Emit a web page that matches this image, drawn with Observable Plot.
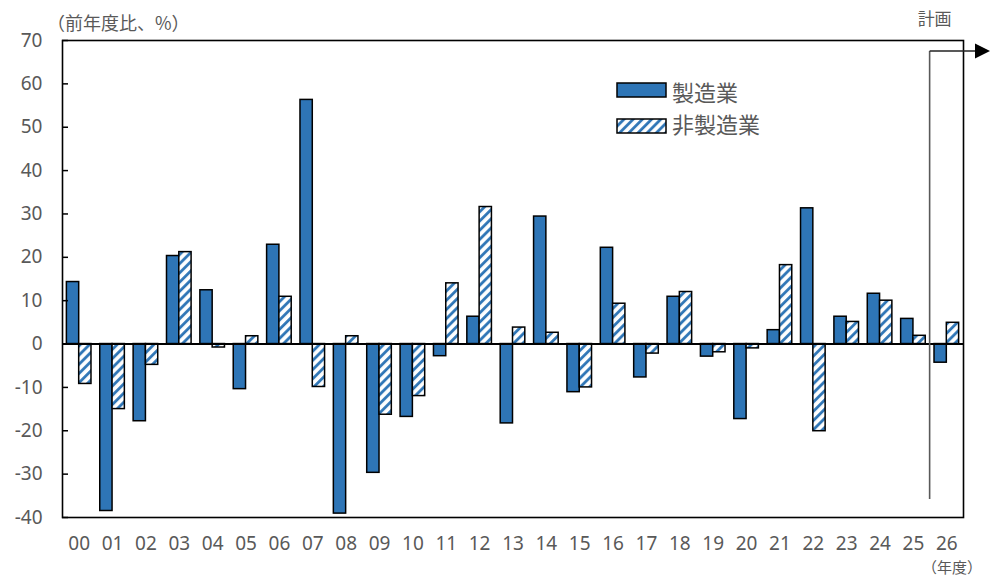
<!DOCTYPE html>
<html><head><meta charset="utf-8">
<script src="https://cdn.jsdelivr.net/npm/d3@7"></script>
<script src="https://cdn.jsdelivr.net/npm/@observablehq/plot@0.6"></script>
<style>
body{margin:0;background:#fff;}
#chart{position:relative;width:995px;height:579px;font-family:"Noto Sans CJK JP","Noto Sans",sans-serif;color:#595959;}
.lbl{position:absolute;white-space:nowrap;line-height:1;}
</style></head><body><div id="chart"></div>
<script>
const years = ["00","01","02","03","04","05","06","07","08","09","10","11","12","13","14","15","16","17","18","19","20","21","22","23","24","25","26"];
const manufacturing = [14.3,-38.5,-17.8,20.3,12.4,-10.4,22.9,56.3,-39.1,-29.7,-16.8,-2.8,6.3,-18.3,29.4,-11.1,22.2,-7.7,10.9,-2.9,-17.3,3.2,31.3,6.3,11.6,5.8,-4.3];
const nonManufacturing = [-9.2,-15.0,-4.8,21.2,-0.8,1.8,10.9,-9.9,1.8,-16.3,-12.0,14.0,31.6,3.8,2.6,-10.0,9.3,-2.2,12.0,-1.9,-1.0,18.2,-20.1,5.1,10.0,1.9,4.9];
const yTicks = [-40,-30,-20,-10,0,10,20,30,40,50,60,70];
const seriesNames = ["製造業","非製造業"];
const unitLabel = "（前年度比、%）";
const xUnitLabel = "（年度）";
const planLabel = "計画";
const planStart = "26";

const BLUE = "#2E75B6", GRAY = "#595959";
const W = 995, H = 579, mL = 62, mR = 32, mT = 40, mB = 62;
const band = (W - mL - mR) / years.length;
const barW = 12.3;

const mfg = years.map((y, i) => ({year: y, value: manufacturing[i]}));
const non = years.map((y, i) => ({year: y, value: nonManufacturing[i]}));

const plot = Plot.plot({
  width: W, height: H,
  marginLeft: mL, marginRight: mR, marginTop: mT, marginBottom: mB,
  style: {fontFamily: "'Noto Sans', 'Noto Sans CJK JP', sans-serif", fontSize: "19px", color: GRAY, background: "white"},
  x: {domain: years, padding: 0, round: false, label: null},
  y: {domain: [-40, 70], label: null},
  marks: [
    Plot.barY(mfg, {x: "year", y: "value", fill: BLUE, stroke: "#000", strokeWidth: 1.5, insetLeft: band/2 - barW, insetRight: band/2}),
    Plot.barY(non, {x: "year", y: "value", fill: "url(#hatch)", stroke: "#000", strokeWidth: 1.5, insetLeft: band/2, insetRight: band/2 - barW}),
    Plot.ruleY([0], {stroke: "#000", strokeWidth: 2}),
    Plot.tickY(yTicks, {y: d => d, stroke: "#000", strokeWidth: 1.5, insetRight: W - mL - mR - 6}),
    Plot.axisY({ticks: yTicks, tickSize: 0, tickPadding: 20, label: null, tickFormat: d => String(d), fontSize: 19}),
    Plot.axisX({tickSize: 0, tickPadding: 19, label: null, fontSize: 19}),
    Plot.frame({stroke: "#000", strokeWidth: 1.6})
  ]
});

const svg = d3.select(plot);
const defs = svg.insert("defs", ":first-child");
const pat = defs.append("pattern").attr("id", "hatch").attr("patternUnits", "userSpaceOnUse")
  .attr("width", 6.5).attr("height", 6.5).attr("patternTransform", "rotate(45)");
pat.append("rect").attr("width", 6.5).attr("height", 6.5).attr("fill", "#fff");
pat.append("line").attr("x1", 1.5).attr("x2", 1.5).attr("y1", 0).attr("y2", 6.5).attr("stroke", BLUE).attr("stroke-width", 2.8);

// plan annotation
const xs = plot.scale("x");
const xPlan = xs.apply(planStart);
const yTop = mT + 11, yBot = H - mB - 18;
const ann = svg.append("g");
ann.append("line").attr("x1", xPlan).attr("x2", xPlan).attr("y1", yTop).attr("y2", yBot).attr("stroke", GRAY).attr("stroke-width", 1.6);
ann.append("line").attr("x1", xPlan).attr("x2", W - 18).attr("y1", yTop).attr("y2", yTop).attr("stroke", "#222").attr("stroke-width", 1.6);
ann.append("path").attr("d", `M${W-20},${yTop-7.5}L${W-5},${yTop}L${W-20},${yTop+7.5}Z`).attr("fill", "#000");

const chart = document.getElementById("chart");
chart.appendChild(plot);
plot.style.position = "absolute"; plot.style.left = "0"; plot.style.top = "0";

function label(text, left, top, size, anchor) {
  const d = document.createElement("div");
  d.className = "lbl"; d.textContent = text;
  d.style.fontSize = size + "px"; d.style.left = left + "px"; d.style.top = top + "px";
  if (anchor === "middle") d.style.transform = "translateX(-50%)";
  chart.appendChild(d);
  return d;
}
label(unitLabel, 47, 13, 18);
label(planLabel, xPlan + 5, 9, 17, "middle");
label(xUnitLabel, 952, 559, 15, "middle");

// legend
function swatch(top, fill) {
  const s = d3.create("svg").attr("width", 52).attr("height", 18)
    .style("position", "absolute").style("left", "615px").style("top", top + "px");
  if (fill === "hatch") {
    const p = s.append("defs").append("pattern").attr("id", "hatch2").attr("patternUnits", "userSpaceOnUse")
      .attr("width", 6.5).attr("height", 6.5).attr("patternTransform", "rotate(45)");
    p.append("rect").attr("width", 6.5).attr("height", 6.5).attr("fill", "#fff");
    p.append("line").attr("x1", 1.5).attr("x2", 1.5).attr("y1", 0).attr("y2", 6.5).attr("stroke", BLUE).attr("stroke-width", 2.8);
  }
  s.append("rect").attr("x", 2).attr("y", 2).attr("width", 49).attr("height", 14)
    .attr("fill", fill === "hatch" ? "url(#hatch2)" : BLUE).attr("stroke", "#000").attr("stroke-width", 1.5);
  chart.appendChild(s.node());
}
swatch(81, BLUE);
swatch(117, "hatch");
label(seriesNames[0], 672, 80, 22);
label(seriesNames[1], 672, 112, 22);
</script></body></html>
